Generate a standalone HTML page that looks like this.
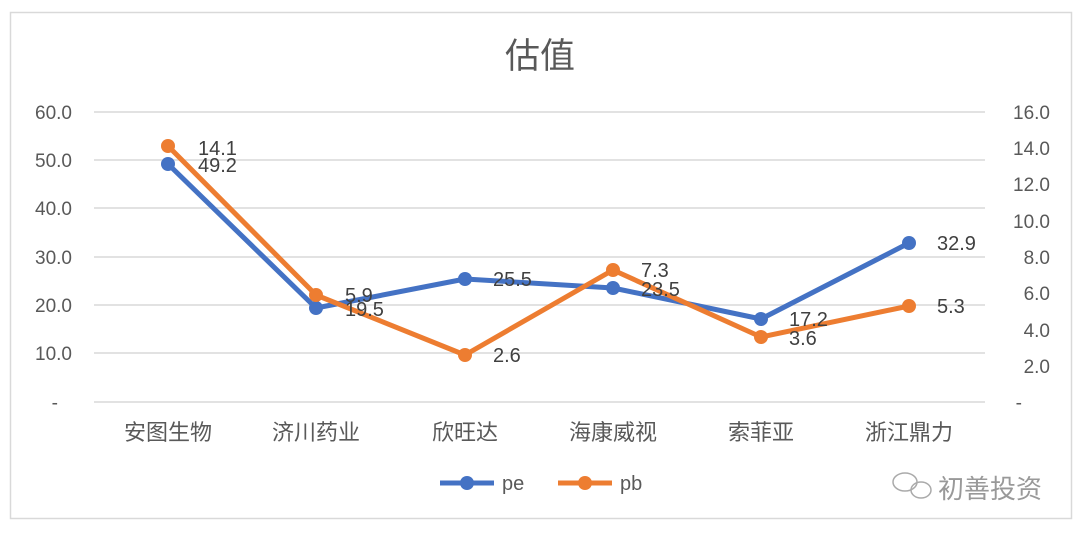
<!DOCTYPE html>
<html><head><meta charset="utf-8"><style>
html,body{margin:0;padding:0;background:#fff;}
svg{display:block;font-family:"Liberation Sans","Noto Sans CJK SC",sans-serif;}
</style></head><body>
<svg width="1080" height="535" viewBox="0 0 1080 535" xmlns="http://www.w3.org/2000/svg">
<rect x="0" y="0" width="1080" height="535" fill="#fff"/>
<rect x="10.5" y="12.5" width="1061" height="506" fill="#fff" stroke="#d9d9d9" stroke-width="1.5"/>
<text x="540" y="68" text-anchor="middle" font-size="35" fill="#595959">估值</text>
<g stroke="#d9d9d9" stroke-width="1.5">
<line x1="94" x2="985" y1="112" y2="112"/><line x1="94" x2="985" y1="160" y2="160"/>
<line x1="94" x2="985" y1="208" y2="208"/><line x1="94" x2="985" y1="257" y2="257"/>
<line x1="94" x2="985" y1="305" y2="305"/><line x1="94" x2="985" y1="353" y2="353"/>
<line x1="94" x2="985" y1="402" y2="402"/>
</g>
<g font-size="19" fill="#595959" text-anchor="end">
<text x="72" y="119">60.0</text><text x="72" y="167">50.0</text><text x="72" y="215">40.0</text>
<text x="72" y="264">30.0</text><text x="72" y="312">20.0</text><text x="72" y="360">10.0</text>
<text x="58" y="409">-</text>
</g>
<g font-size="19" fill="#595959" text-anchor="end">
<text x="1050" y="119">16.0</text><text x="1050" y="155">14.0</text><text x="1050" y="191">12.0</text>
<text x="1050" y="228">10.0</text><text x="1050" y="264">8.0</text><text x="1050" y="300">6.0</text>
<text x="1050" y="337">4.0</text><text x="1050" y="373">2.0</text><text x="1022" y="409">-</text>
</g>
<g font-size="22" fill="#595959" text-anchor="middle">
<text x="168" y="440">安图生物</text><text x="316" y="440">济川药业</text><text x="465" y="440">欣旺达</text>
<text x="613" y="440">海康威视</text><text x="761" y="440">索菲亚</text><text x="909" y="440">浙江鼎力</text>
</g>
<polyline fill="none" stroke="#4472C4" stroke-width="5" stroke-linejoin="round" points="168,164 316,308 465,279 613,288 761,319 909,243"/>
<polyline fill="none" stroke="#ED7D31" stroke-width="5" stroke-linejoin="round" points="168,146 316,295 465,355 613,270 761,337 909,306"/>
<g fill="#4472C4">
<circle cx="168" cy="164" r="7"/><circle cx="316" cy="308" r="7"/><circle cx="465" cy="279" r="7"/>
<circle cx="613" cy="288" r="7"/><circle cx="761" cy="319" r="7"/><circle cx="909" cy="243" r="7"/>
</g>
<g fill="#ED7D31">
<circle cx="168" cy="146" r="7"/><circle cx="316" cy="295" r="7"/><circle cx="465" cy="355" r="7"/>
<circle cx="613" cy="270" r="7"/><circle cx="761" cy="337" r="7"/><circle cx="909" cy="306" r="7"/>
</g>
<g font-size="20" fill="#404040">
<text x="198" y="155">14.1</text><text x="198" y="172">49.2</text>
<text x="345" y="302">5.9</text><text x="345" y="316">19.5</text>
<text x="493" y="286">25.5</text><text x="493" y="362">2.6</text>
<text x="641" y="277">7.3</text><text x="641" y="296">23.5</text>
<text x="789" y="326">17.2</text><text x="789" y="345">3.6</text>
<text x="937" y="250">32.9</text><text x="937" y="313">5.3</text>
</g>
<line x1="440" x2="494" y1="483" y2="483" stroke="#4472C4" stroke-width="5"/>
<circle cx="467" cy="483" r="7" fill="#4472C4"/>
<text x="502" y="490" font-size="20" fill="#595959">pe</text>
<line x1="558" x2="612" y1="483" y2="483" stroke="#ED7D31" stroke-width="5"/>
<circle cx="585" cy="483" r="7" fill="#ED7D31"/>
<text x="620" y="490" font-size="20" fill="#595959">pb</text>
<g fill="none" stroke="#aaa" stroke-width="1.5">
<ellipse cx="905" cy="482" rx="12" ry="9"/><ellipse cx="921" cy="490" rx="10" ry="8"/>
</g>
<text x="938" y="498" font-size="26" fill="#999">初善投资</text>
</svg>
</body></html>
